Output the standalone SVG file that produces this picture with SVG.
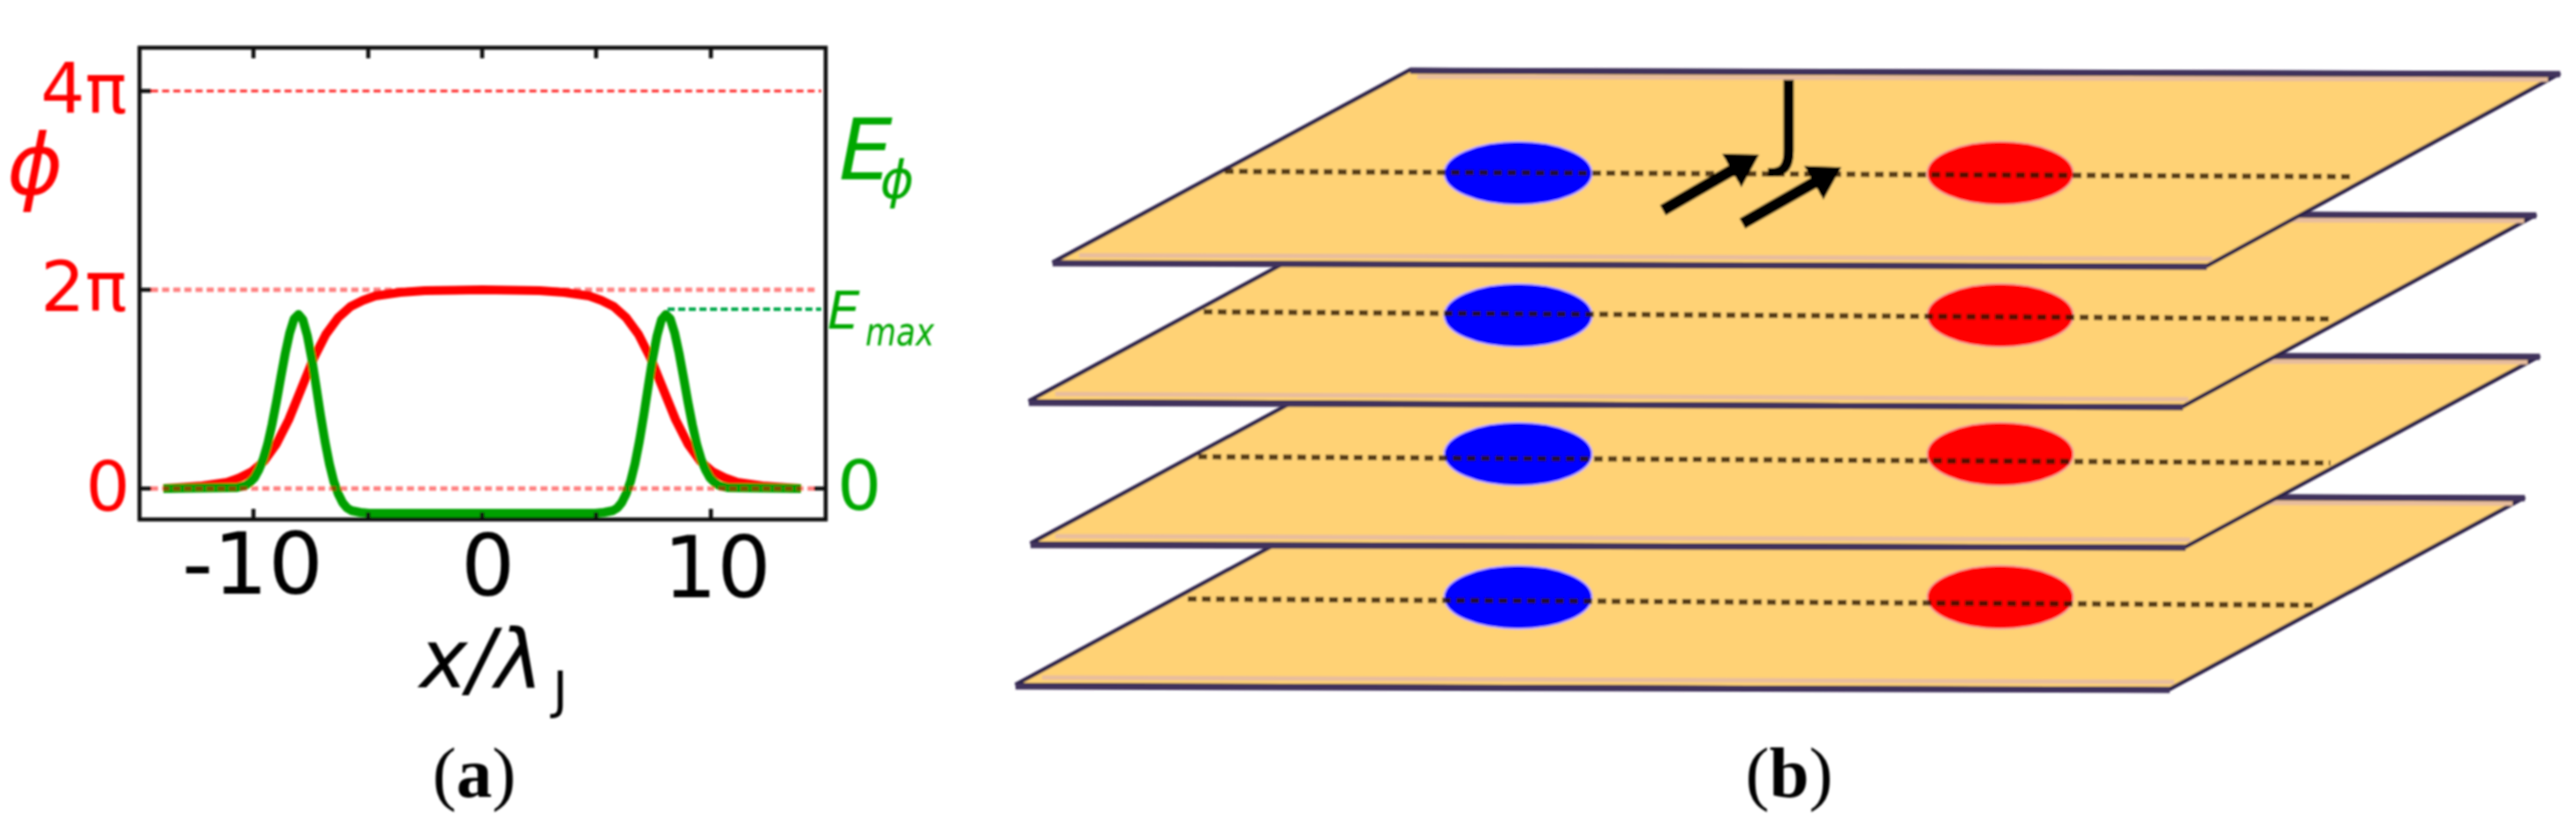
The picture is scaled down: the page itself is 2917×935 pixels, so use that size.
<svg xmlns="http://www.w3.org/2000/svg" width="2917" height="935" viewBox="0 0 2917 935">
<style>
text{font-family:"DejaVu Sans",sans-serif}
.r{fill:#ff0000}.g{fill:#00a800}.k{fill:#000}
.n{font-size:79px}.t{font-size:96px}.i{font-style:italic}
.cap{font-family:"Liberation Serif",serif;font-size:81px;text-anchor:middle;fill:#000}
.cap tspan{font-weight:bold}
.ax{fill:none;stroke:#111;stroke-width:4.5}
.dr{fill:none;stroke:#ff0000;stroke-dasharray:8 4.6}
.plane{fill:#ffd274;stroke:#2c2148;stroke-width:4.4;stroke-linejoin:miter}
.edge{fill:none;stroke:#41335c;stroke-width:7}
.halo{fill:none;stroke:#e8bd9c;stroke-width:5}
.mid{fill:none;stroke:#2a1500;stroke-width:6;stroke-dasharray:10 6;opacity:.78}
.blue{fill:#0000ff;stroke:#c8b0f0;stroke-width:2}
.red{fill:#ff0000;stroke:#f4a898;stroke-width:2}
.arrow{fill:none;stroke:#000;stroke-width:13;marker-end:url(#head)}
</style>
<defs>
<filter id="s" filterUnits="userSpaceOnUse" x="0" y="0" width="2917" height="935"><feGaussianBlur stdDeviation="0.9"/></filter>
<marker id="head" markerUnits="userSpaceOnUse" viewBox="0 0 36 44" refX="6" refY="22" markerWidth="36" markerHeight="44" orient="auto"><path d="M0,0 L36,22 L0,44 Z" fill="#000"/></marker>
</defs>
<rect width="2917" height="935" fill="#fff"/>
<g id="panel-a" filter="url(#s)">
<path class="dr" stroke-width="3" opacity=".85" d="M171,103H930"/>
<path class="dr" stroke-width="5" opacity=".5" d="M171,328H927"/>
<polyline id="phi-curve" fill="none" stroke="#ff0000" stroke-width="10" stroke-linejoin="round" points="185,553 201,552 229,550 257,546 271,541 285,534 299,522 313,502.5 327,475 341,440.5 355,406 369,378.5 383,359.5 397,347 411,340 425,335 453,331 481,329 546,328 611,329 639,331 667,335 681,340 695,347 709,359.5 723,378.5 737,406 751,440.5 765,475 779,502.5 793,522 807,534 821,541 835,546 863,550 891,552 907,553"/>
<polyline id="energy-curve" fill="none" stroke="#00a000" stroke-width="10" stroke-linejoin="round" points="185,553 268,552 278,549.5 283,546 288,541 293,532 298,520 303,503 308,480.5 313,455 318,427 323,400 328,377 333,361 338,356 343,362 348,380 353,406 358,437.5 363,470 368,499.5 373,525 378,545 383,559 388,569 393,575 398,578 408,580 418,581 546,581 674,581 684,580 694,578 699,575 704,569 709,559 714,545 719,525 724,499.5 729,470 734,437.5 739,406 744,380 749,362 754,356 759,361 764,377 769,400 774,427 779,455 784,480.5 789,503 794,520 799,532 804,541 809,546 814,549.5 824,552 907,553"/>
<g id="axes">
<rect class="ax" x="158" y="54" width="777" height="534"/>
<path class="ax" d="M287,54V66M417,54V66M546,54V66M675,54V66M805,54V66M287,588V576M417,588V580M546,588V580M675,588V580M805,588V576M158,103H171M158,328H171M158,553H171M935,553H922"/>
</g>
<path class="dr" stroke-width="5" opacity=".5" d="M171,553H922"/>
<path fill="none" stroke="#00a84a" stroke-width="4" stroke-dasharray="8 4" d="M756,350H930"/>
<text class="r n" x="46" y="128">4π</text>
<text class="r n" x="46" y="352">2π</text>
<text class="r n" x="97" y="578">0</text>
<text class="g n" x="948" y="577">0</text>
<text class="r i" x="8" y="220" font-size="96">ϕ</text>
<text class="g i" x="950" y="203" font-size="96">E<tspan dx="-14" dy="21" font-size="58">ϕ</tspan></text>
<text class="g i" x="937" y="372" font-size="58">E</text>
<text class="g i" x="980" y="391" font-size="44" textLength="78" lengthAdjust="spacingAndGlyphs">max</text>
<text class="k t" x="206" y="672" textLength="160" lengthAdjust="spacingAndGlyphs">-10</text>
<text class="k t" x="522" y="674">0</text>
<text class="k t" x="751" y="676">10</text>
<text class="k i" x="475" y="778" font-size="92">x/λ</text>
<text class="k" x="626" y="801" font-size="57">J</text>
<text class="cap" x="537" y="902">(<tspan>a</tspan>)</text>
</g>
<g id="panel-b" filter="url(#s)">
<g id="plane-4">
<polygon class="plane" points="1150,775 1552,558 2859,563 2457,780"/>
<path class="halo" d="M1180,767L2462,772M1560,566L2845,570"/>
<path class="edge" d="M1150,777L2457,781M1552,559L2859,564"/>
<ellipse class="blue" cx="1719" cy="676" rx="84" ry="36"/>
<ellipse class="red" cx="2265" cy="676" rx="83" ry="36"/>
<path class="mid" d="M1345,678L2624,685"/>
</g>
<g id="plane-3">
<polygon class="plane" points="1167,615 1568,399 2876,403 2475,619"/>
<path class="halo" d="M1195,607L2480,611M1576,407L2862,410"/>
<path class="edge" d="M1167,617L2475,620M1568,400L2876,404"/>
<ellipse class="blue" cx="1719" cy="514" rx="84" ry="36"/>
<ellipse class="red" cx="2265" cy="514" rx="83" ry="36"/>
<path class="mid" d="M1357,517L2639,524"/>
</g>
<g id="plane-2">
<polygon class="plane" points="1165,454 1565,238 2872,243 2472,460"/>
<path class="halo" d="M1195,446L2478,452M1573,246L2858,250"/>
<path class="edge" d="M1165,456L2472,461M1565,239L2872,244"/>
<ellipse class="blue" cx="1719" cy="357" rx="84" ry="36"/>
<ellipse class="red" cx="2265" cy="357" rx="83" ry="36"/>
<path class="mid" d="M1363,353L2640,361"/>
</g>
<g id="plane-1">
<polygon class="plane" points="1192,297 1597,79 2899,83 2499,301"/>
<path class="halo" d="M1222,289L2505,293M1605,87L2885,90"/>
<path class="edge" d="M1192,298L2499,302M1597,80L2899,84"/>
<ellipse class="blue" cx="1719" cy="196" rx="84" ry="36"/>
<ellipse class="red" cx="2265" cy="196" rx="83" ry="36"/>
<path class="mid" d="M1387,194L2667,200"/>
</g>
<text id="current-label" class="k" x="2008" y="176" font-size="118">J</text>
<g id="connectors">
<line class="arrow" x1="1883" y1="238" x2="1966" y2="190"/>
<line class="arrow" x1="1973" y1="253" x2="2059" y2="204"/>
</g>
<text class="cap" x="2026" y="902">(<tspan>b</tspan>)</text>
</g>
</svg>
